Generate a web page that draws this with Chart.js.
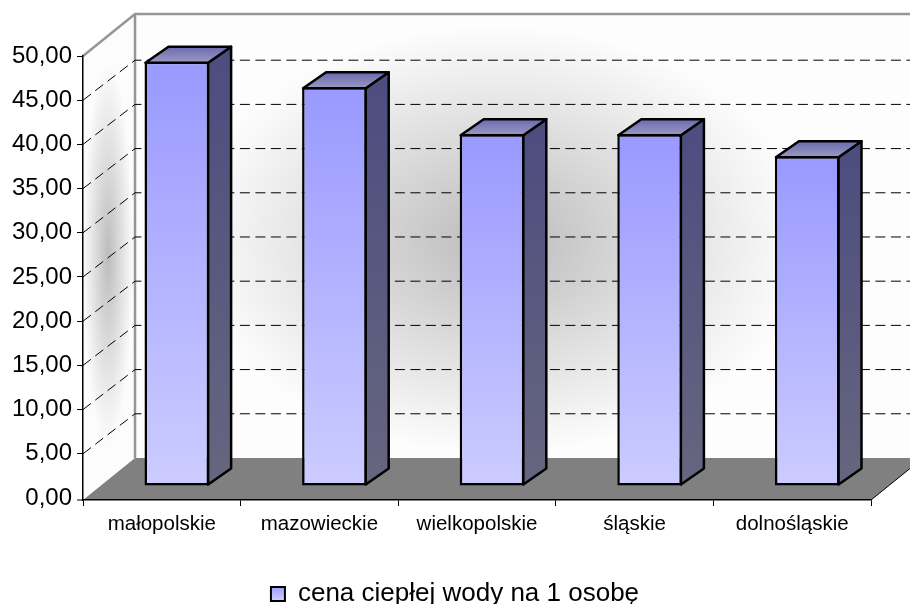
<!DOCTYPE html>
<html>
<head>
<meta charset="utf-8">
<title>cena ciepłej wody</title>
<script src="https://cdn.jsdelivr.net/npm/chart.js@4"></script>
<style>
	html, body { margin: 0; padding: 0; background: #fff; }
	canvas { display: block; }
</style>
</head>
<body>
<canvas id="chart" width="910" height="604"></canvas>
<script>
const categories = ['małopolskie', 'mazowieckie', 'wielkopolskie', 'śląskie', 'dolnośląskie'];
const seriesName = 'cena ciepłej wody na 1 osobę';
const seriesValues = [48, 45.1, 39.8, 39.8, 37.3];
const yTicks = [0, 5, 10, 15, 20, 25, 30, 35, 40, 45, 50];

// depth of the 3d box, px
const WALL_DX = 52, WALL_DY = 42, GRID_DY = 40;
const BAR_DX = 15, BAR_DY = 12;
const SIDE_DX = 23, SIDE_DY = 16;
const RIGHT_PAD = 39;

function blot(ctx, cx, cy, rx, ry, color) {
	// soft elliptical shadow
	ctx.save();
	ctx.translate(cx, cy);
	ctx.scale(rx, ry);
	const g = ctx.createRadialGradient(0, 0, 0, 0, 0, 1);
	g.addColorStop(0, color);
	g.addColorStop(1, 'rgba(190,190,190,0)');
	ctx.fillStyle = g;
	ctx.fillRect(-1, -1, 2, 2);
	ctx.restore();
}

const box3d = {
	id: 'box3d',
	afterLayout(chart) {
		// legend is centred on the whole picture, not on the padded box
		chart.legend.left += RIGHT_PAD / 2;
		chart.legend.right += RIGHT_PAD / 2;
	},
	beforeDraw(chart) {
		const { ctx, chartArea: a, scales: { y } } = chart;
		const w = chart.width;
		ctx.save();
		// back wall
		ctx.save();
		ctx.beginPath();
		ctx.rect(a.left + WALL_DX, a.top - WALL_DY, w - a.left - WALL_DX, a.bottom - a.top);
		ctx.clip();
		ctx.fillStyle = '#fdfdfd';
		ctx.fill();
		blot(ctx, 497, 240, 310, 215, 'rgba(186,186,186,1)');
		ctx.restore();
		// left wall
		ctx.save();
		ctx.beginPath();
		ctx.moveTo(a.left, a.top);
		ctx.lineTo(a.left + WALL_DX, a.top - WALL_DY);
		ctx.lineTo(a.left + WALL_DX, a.bottom - WALL_DY);
		ctx.lineTo(a.left, a.bottom);
		ctx.closePath();
		ctx.clip();
		ctx.fillStyle = '#fcfcfc';
		ctx.fill();
		blot(ctx, a.left + 25, 255, 25, 190, 'rgba(188,188,188,1)');
		ctx.restore();
		// floor
		ctx.fillStyle = '#808080';
		ctx.beginPath();
		ctx.moveTo(a.left, a.bottom);
		ctx.lineTo(a.right, a.bottom);
		ctx.lineTo(a.right + WALL_DX, a.bottom - WALL_DY);
		ctx.lineTo(a.left + WALL_DX, a.bottom - WALL_DY);
		ctx.closePath();
		ctx.fill();
		// wall edges
		ctx.strokeStyle = '#969696';
		ctx.lineWidth = 2.5;
		ctx.beginPath();
		ctx.moveTo(a.left, a.top);
		ctx.lineTo(a.left + WALL_DX, a.top - WALL_DY);
		ctx.lineTo(w, a.top - WALL_DY);
		ctx.moveTo(a.left + WALL_DX, a.top - WALL_DY);
		ctx.lineTo(a.left + WALL_DX, a.bottom - WALL_DY);
		ctx.stroke();
		// floor right edge and the zero tick on the axis corner
		ctx.strokeStyle = '#000';
		ctx.lineWidth = 1;
		ctx.beginPath();
		ctx.moveTo(a.right, a.bottom);
		ctx.lineTo(a.right + WALL_DX, a.bottom - WALL_DY);
		ctx.moveTo(a.left - 6, a.bottom);
		ctx.lineTo(a.left, a.bottom);
		ctx.stroke();
		// grid lines
		ctx.setLineDash([10, 5.5]);
		y.ticks.forEach(t => {
			if (t.value === 0 || t.value === 50) return;
			const py = y.getPixelForValue(t.value);
			ctx.beginPath();
			ctx.moveTo(a.left, py);
			ctx.lineTo(a.left + WALL_DX, py - GRID_DY);
			ctx.lineTo(w, py - GRID_DY);
			ctx.stroke();
		});
		ctx.restore();
	},
	beforeDatasetDraw(chart, args) {
		const { ctx } = chart;
		args.meta.data.forEach(bar => {
			const l = bar.x - bar.width / 2 + BAR_DX;
			const r = bar.x + bar.width / 2 + BAR_DX;
			const t = bar.y - BAR_DY + 1;
			const b = bar.base - BAR_DY - 1;
			ctx.save();
			ctx.lineWidth = 2.5;
			ctx.strokeStyle = '#000';
			ctx.lineJoin = 'round';
			// side face
			const side = ctx.createLinearGradient(0, t, 0, b);
			side.addColorStop(0, '#4d4d80');
			side.addColorStop(1, '#66667f');
			ctx.fillStyle = side;
			ctx.beginPath();
			ctx.moveTo(r - 1, t);
			ctx.lineTo(r - 1 + SIDE_DX, t - SIDE_DY);
			ctx.lineTo(r - 1 + SIDE_DX, b - SIDE_DY);
			ctx.lineTo(r - 1, b);
			ctx.closePath();
			ctx.fill();
			ctx.stroke();
			// top face
			const top = ctx.createLinearGradient(0, t - SIDE_DY, 0, t);
			top.addColorStop(0, '#6a6ab0');
			top.addColorStop(1, '#9a9ac2');
			ctx.fillStyle = top;
			ctx.beginPath();
			ctx.moveTo(l + 1, t);
			ctx.lineTo(l + 1 + SIDE_DX, t - SIDE_DY);
			ctx.lineTo(r - 1 + SIDE_DX, t - SIDE_DY);
			ctx.lineTo(r - 1, t);
			ctx.closePath();
			ctx.fill();
			ctx.stroke();
			ctx.restore();
		});
		// front faces come from the library, moved into the depth of the floor
		ctx.save();
		ctx.translate(BAR_DX, -BAR_DY);
	},
	afterDatasetDraw(chart) {
		chart.ctx.restore();
	}
};

function frontFill(context) {
	const { chart, parsed } = context;
	if (!parsed || !chart.chartArea) return '#b3b3ff';
	const y = chart.scales.y;
	const g = chart.ctx.createLinearGradient(0, y.getPixelForValue(parsed.y), 0, y.getPixelForValue(0));
	g.addColorStop(0, '#9999ff');
	g.addColorStop(1, '#ccccff');
	return g;
}

new Chart(document.getElementById('chart'), {
	type: 'bar',
	plugins: [box3d],
	data: {
		labels: categories,
		datasets: [{
			label: seriesName,
			data: seriesValues,
			backgroundColor: frontFill,
			borderColor: '#000',
			borderWidth: 2.5,
			borderSkipped: false,
			categoryPercentage: 1,
			barPercentage: 0.41,
			clip: false
		}]
	},
	options: {
		responsive: false,
		animation: false,
		layout: { padding: { top: 56, right: RIGHT_PAD, left: 0, bottom: -13 } },
		scales: {
			x: {
				afterFit(s) { s.height = 77; },
				grid: { drawOnChartArea: false, color: '#000', tickLength: 6 },
				border: { color: '#000', width: 1.5 },
				ticks: { color: '#000', font: { family: 'Liberation Sans', size: 20.5 }, maxRotation: 0, padding: 6 }
			},
			y: {
				// axis line sits 2px under the zero value in the original
				min: -0.23,
				max: 50,
				afterFit(s) { s.width = 83; },
				afterBuildTicks(s) { s.ticks = yTicks.map(v => ({ value: v })); },
				grid: {
					drawOnChartArea: false,
					color: c => (c.tick && c.tick.value === 0 ? 'rgba(0,0,0,0)' : '#000'),
					tickLength: 6
				},
				border: { color: '#000', width: 1.5 },
				ticks: {
					color: '#000',
					font: { family: 'Liberation Sans', size: 24 },
					padding: 5,
					callback: v => v.toFixed(2).replace('.', ',')
				}
			}
		},
		plugins: {
			tooltip: { enabled: false },
			legend: {
				position: 'bottom',
				labels: {
					color: '#000',
					font: { family: 'Liberation Sans', size: 26 },
					boxWidth: 14,
					boxHeight: 14,
					padding: 4,
					generateLabels(chart) {
						const g = chart.ctx.createLinearGradient(0, 586, 0, 600);
						g.addColorStop(0, '#9999ff');
						g.addColorStop(1, '#ccccff');
						return [{ text: seriesName, fillStyle: g, strokeStyle: '#000', lineWidth: 2, datasetIndex: 0 }];
					}
				}
			}
		}
	}
});
</script>
</body>
</html>
